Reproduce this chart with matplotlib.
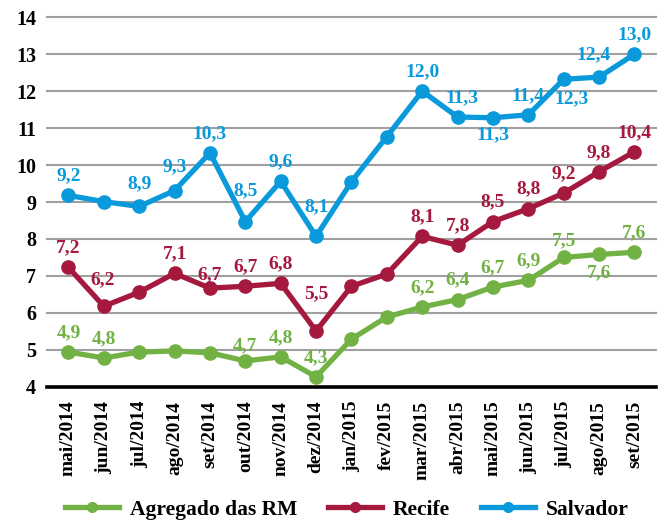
import matplotlib
matplotlib.use("Agg")
import matplotlib.pyplot as plt
from matplotlib.lines import Line2D

months = ["mai/2014", "jun/2014", "jul/2014", "ago/2014", "set/2014", "out/2014",
          "nov/2014", "dez/2014", "jan/2015", "fev/2015", "mar/2015", "abr/2015",
          "mai/2015", "jun/2015", "jul/2015", "ago/2015", "set/2015"]

agregado = [4.94, 4.78, 4.94, 4.97, 4.92, 4.70, 4.81, 4.27, 5.29, 5.89, 6.16, 6.36,
            6.70, 6.88, 7.50, 7.58, 7.64]
recife = [7.23, 6.18, 6.56, 7.07, 6.67, 6.72, 6.80, 5.51, 6.72, 7.05, 8.07, 7.83,
          8.47, 8.82, 9.24, 9.82, 10.36]
salvador = [9.18, 9.01, 8.88, 9.31, 10.33, 8.47, 9.56, 8.07, 9.55, 10.77, 12.00, 11.30,
            11.28, 11.36, 12.32, 12.38, 13.00]

# which points carry a data label
agregado_lab = [1, 1, 0, 0, 0, 1, 1, 1, 0, 0, 1, 1, 1, 1, 1, 1, 1]
recife_lab = [1, 1, 0, 1, 1, 1, 1, 1, 0, 0, 1, 1, 1, 1, 1, 1, 1]
salvador_lab = [1, 0, 1, 1, 1, 1, 1, 1, 0, 0, 1, 1, 1, 1, 1, 1, 1]

series_names = ["Agregado das RM", "Recife", "Salvador"]
colors = ["#72B244", "#A5193E", "#0A9ADB"]

# label offsets in points (dx, dy); default above
default_off = (0, 14)
offsets = {
    ("Agregado das RM", 15): (0, -13),
    ("Agregado das RM", 14): (0, 12),
    ("Agregado das RM", 5): (0, 11),
    ("Recife", 1): (-1, 19),
    ("Recife", 4): (0, 10),
    ("Recife", 7): (0, 27),
    ("Salvador", 5): (0, 22),
    ("Salvador", 7): (0, 21),
    ("Salvador", 2): (0, 16),
    ("Salvador", 3): (0, 17),
    ("Salvador", 12): (0, -12),
    ("Salvador", 14): (6, -14),
    ("Salvador", 15): (-4, 16),
    ("Salvador", 11): (3, 14),
}

FONT = "Liberation Serif"
plt.rcParams["font.family"] = [FONT, "DejaVu Serif"]
plt.rcParams["font.weight"] = "bold"

fig = plt.figure(figsize=(6.65, 5.22), dpi=100)
ax = fig.add_axes([0.071, 0.259, 0.915, 0.708])

x = list(range(len(months)))
all_series = [agregado, recife, salvador]
all_labs = [agregado_lab, recife_lab, salvador_lab]

for name, vals, labs, col in zip(series_names, all_series, all_labs, colors):
    ax.plot(x, vals, color=col, lw=3.8, marker="o", ms=9.5, zorder=3,
            solid_joinstyle="round", label=name)
    for i, (v, l) in enumerate(zip(vals, labs)):
        if not l:
            continue
        dx, dy = offsets.get((name, i), default_off)
        ax.annotate(f"{v:.1f}".replace(".", ","), (i, v), xytext=(dx, dy),
                    textcoords="offset points", ha="center", va="center",
                    color=col, fontsize=14, fontweight="bold", zorder=4)

ax.set_xlim(-0.6, 16.6)
ax.set_ylim(4, 14)
ax.set_yticks(range(4, 15))
ax.set_yticklabels([str(t) for t in range(4, 15)], fontsize=14.5, fontweight="bold")
ax.set_xticks(x)
ax.set_xticklabels(months, rotation=90, fontsize=14, fontweight="bold")
ax.tick_params(axis="both", length=0)
ax.tick_params(axis="y", pad=8)
ax.tick_params(axis="x", pad=10)

for s in ["top", "right", "left"]:
    ax.spines[s].set_visible(False)
ax.spines["bottom"].set_linewidth(2.6)
ax.spines["bottom"].set_color("black")
ax.spines["bottom"].set_zorder(5)

for t in range(5, 15):
    ax.axhline(t, color="#A0A0A0", lw=1.5, zorder=1, clip_on=False)

handles = [Line2D([0], [0], color=c, lw=3.8, marker="o", ms=7) for c in colors]
fig.legend(handles, series_names, loc="center", bbox_to_anchor=(0.522, 0.023),
           ncol=3, frameon=False, handlelength=2.5,
           columnspacing=1.45, handletextpad=0.5,
           prop={"family": FONT, "weight": "bold", "size": 15.5})

fig.savefig("out.png", dpi=100)
